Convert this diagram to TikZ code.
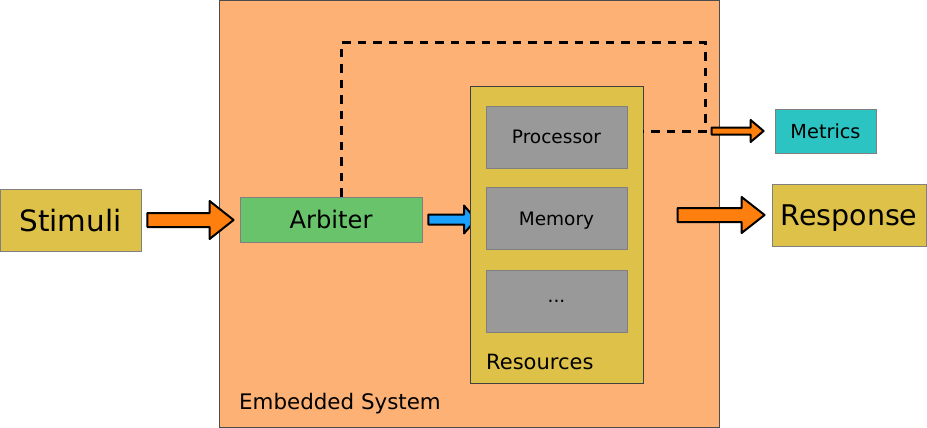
\documentclass[tikz,border=0pt]{standalone}
\usepackage{fontspec}
\setmainfont{DejaVu Sans}
\usetikzlibrary{calc,positioning}

\definecolor{peach}{RGB}{253,177,117}
\definecolor{mustard}{RGB}{222,193,72}
\definecolor{leafgreen}{RGB}{104,195,106}
\definecolor{unitgray}{RGB}{153,153,153}
\definecolor{teal}{RGB}{44,195,195}
\definecolor{arrorange}{RGB}{255,127,14}
\definecolor{arrblue}{RGB}{26,160,255}

% block arrow: fill, start, tip, tail half width, head half width, head length
\newcommand{\blockarrow}[6]{%
  \draw[fill=#1, line width=2pt, line join=round]
    let \p1=(#2), \p2=(#3) in
    (\x1,\y1+#4pt) -- (\x2-#6pt,\y1+#4pt) -- (\x2-#6pt,\y1+#5pt) -- (\x2,\y1)
    -- (\x2-#6pt,\y1-#5pt) -- (\x2-#6pt,\y1-#4pt) -- (\x1,\y1-#4pt) -- cycle;}

\begin{document}
\begin{tikzpicture}[
    x=1pt, y=-1pt,
    box/.style={draw=black!50, line width=0.8pt, inner sep=0pt, text depth=0pt},
    unit/.style={box, fill=unitgray, minimum width=141pt, minimum height=62pt,
      font=\fontsize{18.5}{22}\selectfont},
    dashline/.style={line width=3pt, dash pattern=on 8.5pt off 7pt}
  ]
  \useasboundingbox (0,0) rectangle (927,428);

  % outer system
  \node[box, draw=black!70, fill=peach, minimum width=500pt, minimum height=427pt]
    (system) at (469,213.5) {};
  \node[anchor=base west, inner sep=0pt, font=\fontsize{21.4}{26}\selectfont]
    (syslabel) at (239,409) {Embedded System};

  % input side
  \node[box, fill=mustard, minimum width=141pt, minimum height=62pt,
    font=\fontsize{29.4}{35}\selectfont] (stimuli) at (70.5,220) {Stimuli};
  \node[box, fill=leafgreen, minimum width=182pt, minimum height=45pt,
    font=\fontsize{24.2}{29}\selectfont] (arbiter) at (331,219.5) {Arbiter};

  \blockarrow{arrblue}{[xshift=6pt]arbiter.east}{476,219.5}{5}{14}{12}

  % resources
  \node[box, draw=black!75, fill=mustard, minimum width=173pt, minimum height=297pt]
    (resources) at (556.5,234.5) {};
  \node[unit] (processor) at (556.5,137) {Processor};
  \node[unit, below=19pt of processor] (memory) {Memory};
  \node[unit, below=20pt of memory] (dots) {...};
  \node[anchor=base west, inner sep=0pt, font=\fontsize{21}{25}\selectfont]
    (reslabel) at (486,369) {Resources};

  % outputs
  \node[box, fill=teal, minimum width=101pt, minimum height=44pt,
    font=\fontsize{19.3}{23}\selectfont] (metrics) at (825.5,131) {Metrics};
  \node[box, fill=mustard, minimum width=154pt, minimum height=62pt,
    font=\fontsize{28.5}{34}\selectfont] (response) at (849,215) {Response};

  % connectors
  \coordinate (tap) at (705,43);
  \draw[dashline] ([xshift=10pt]arbiter.north) |- (tap) |- (resources.east |- metrics);
  \blockarrow{arrorange}{[xshift=6pt]stimuli.east}{[xshift=-6pt]arbiter.west}{7}{19}{24}
  \blockarrow{arrorange}{[xshift=-63pt]metrics.west}{[xshift=-11pt]metrics.west}{3.5}{11}{13}
  \blockarrow{arrorange}{[xshift=-94pt]response.west}{[xshift=-7pt]response.west}{7}{18}{23}
\end{tikzpicture}
\end{document}
